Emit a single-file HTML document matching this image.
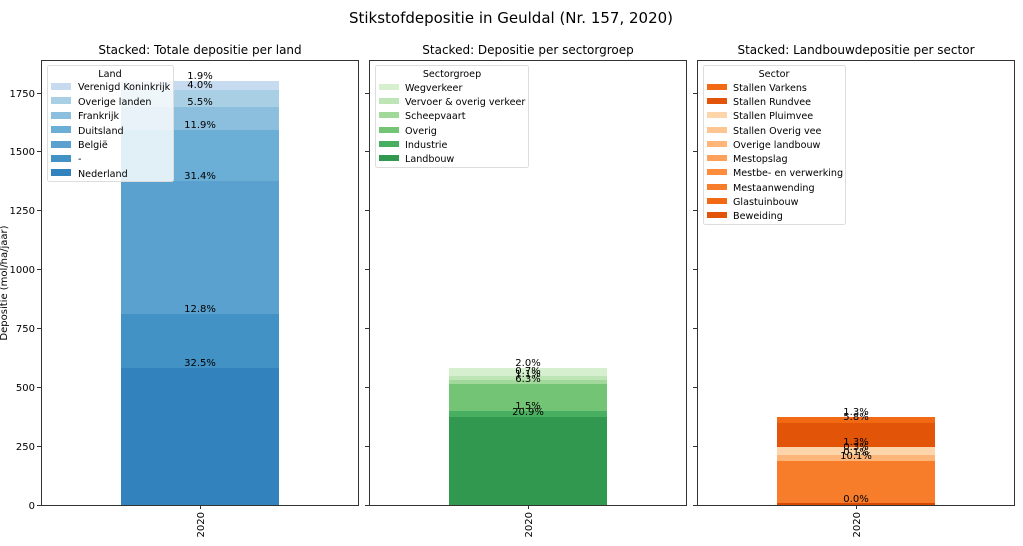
<!DOCTYPE html>
<html><head><meta charset="utf-8"><style>
body{margin:0;background:#fff;}
svg text{font-family:"DejaVu Sans","Liberation Sans",sans-serif;fill:#000;}
</style></head><body>
<svg width="1023" height="541" viewBox="0 0 1023 541" xmlns="http://www.w3.org/2000/svg">
<rect width="1023" height="541" fill="#fff"/>
<text x="511" y="23" font-size="15" text-anchor="middle">Stikstofdepositie in Geuldal (Nr. 157, 2020)</text>
<text x="200" y="54" font-size="12" text-anchor="middle">Stacked: Totale depositie per land</text>
<text x="528" y="54" font-size="12" text-anchor="middle">Stacked: Depositie per sectorgroep</text>
<text x="856" y="54" font-size="12" text-anchor="middle">Stacked: Landbouwdepositie per sector</text>
<text transform="translate(7,283) rotate(-90)" font-size="10" text-anchor="middle">Depositie (mol/ha/jaar)</text>

<rect x="121" y="368" width="158" height="137" fill="#3182bd"/>
<rect x="121" y="314" width="158" height="54" fill="#4292c6"/>
<rect x="121" y="181" width="158" height="133" fill="#5aa1cf"/>
<rect x="121" y="130" width="158" height="51" fill="#6baed6"/>
<rect x="121" y="107" width="158" height="23" fill="#8cbfdd"/>
<rect x="121" y="90" width="158" height="17" fill="#a9cfe5"/>
<rect x="121" y="81" width="158" height="9" fill="#c6dbef"/>
<g font-size="10" text-anchor="middle">
<text x="200" y="366">32.5%</text><text x="200" y="312">12.8%</text>
<text x="200" y="179">31.4%</text><text x="200" y="128">11.9%</text>
<text x="200" y="105">5.5%</text><text x="200" y="88">4.0%</text><text x="200" y="79">1.9%</text>
</g>

<rect x="449" y="417" width="158" height="88" fill="#31994f"/>
<rect x="449" y="411" width="158" height="6" fill="#48ae60"/>
<rect x="449" y="384" width="158" height="27" fill="#74c476"/>
<rect x="449" y="380" width="158" height="4" fill="#a1d99b"/>
<rect x="449" y="376" width="158" height="4" fill="#bde5b6"/>
<rect x="449" y="368" width="158" height="8" fill="#d5efcf"/>
<g font-size="10" text-anchor="middle">
<text x="528" y="366">2.0%</text><text x="528" y="374">0.7%</text><text x="528" y="377">1.1%</text>
<text x="528" y="382">6.3%</text><text x="528" y="409">1.5%</text><text x="528" y="415">20.9%</text>
</g>

<rect x="777" y="503" width="158" height="2" fill="#d94801"/>
<rect x="777" y="461" width="158" height="42" fill="#f87d2a"/>
<rect x="777" y="455" width="158" height="6" fill="#fdb57a"/>
<rect x="777" y="447" width="158" height="8" fill="#fdd5ab"/>
<rect x="777" y="423" width="158" height="24" fill="#e25508"/>
<rect x="777" y="417" width="158" height="6" fill="#f16913"/>
<g font-size="10" text-anchor="middle">
<text x="856" y="415">1.3%</text><text x="856" y="420">5.8%</text>
<text x="856" y="445">1.3%</text><text x="856" y="450">0.3%</text><text x="856" y="455">0.1%</text><text x="856" y="459">10.1%</text>
<text x="856" y="502">0.0%</text>
</g>

<g fill="none" stroke="#333" stroke-width="1">
<rect x="41.5" y="60.5" width="317" height="445"/>
<rect x="369.5" y="60.5" width="317" height="445"/>
<rect x="697.5" y="60.5" width="317" height="445"/>
</g>
<g stroke="#333">
<path d="M37 505.5h4M37 446.5h4M37 387.5h4M37 328.5h4M37 269.5h4M37 210.5h4M37 151.5h4M37 93.5h4"/>
<path d="M365 505.5h4M365 446.5h4M365 387.5h4M365 328.5h4M365 269.5h4M365 210.5h4M365 151.5h4M365 93.5h4"/>
<path d="M693 505.5h4M693 446.5h4M693 387.5h4M693 328.5h4M693 269.5h4M693 210.5h4M693 151.5h4M693 93.5h4"/>
<path d="M200.5 505v4M528.5 505v4M856.5 505v4"/>
</g>
<g font-size="10" text-anchor="end">
<text x="35" y="509">0</text><text x="35" y="450">250</text><text x="35" y="391">500</text>
<text x="35" y="332">750</text><text x="35" y="273">1000</text><text x="35" y="214">1250</text>
<text x="35" y="155">1500</text><text x="35" y="97">1750</text>
</g>
<g font-size="10" text-anchor="end">
<text transform="translate(204,512) rotate(-90)">2020</text>
<text transform="translate(532,512) rotate(-90)">2020</text>
<text transform="translate(860,512) rotate(-90)">2020</text>
</g>

<rect x="47.5" y="65.5" width="126" height="116" rx="2" fill="#fff" fill-opacity="0.8" stroke="#ddd"/>
<g font-size="9.6">
<text x="110" y="77" text-anchor="middle">Land</text>
<rect x="51" y="83" width="20" height="7" fill="#c6dbef"/><text x="78" y="90">Verenigd Koninkrijk</text>
<rect x="51" y="97" width="20" height="7" fill="#a9cfe5"/><text x="78" y="105">Overige landen</text>
<rect x="51" y="112" width="20" height="7" fill="#8cbfdd"/><text x="78" y="119">Frankrijk</text>
<rect x="51" y="126" width="20" height="7" fill="#6baed6"/><text x="78" y="134">Duitsland</text>
<rect x="51" y="141" width="20" height="7" fill="#5aa1cf"/><text x="78" y="148">België</text>
<rect x="51" y="155" width="20" height="7" fill="#4292c6"/><text x="78" y="162">-</text>
<rect x="51" y="169" width="20" height="7" fill="#3182bd"/><text x="78" y="177">Nederland</text>
</g>
<rect x="375.5" y="65.5" width="153" height="102" rx="2" fill="#fff" stroke="#ddd"/>
<g font-size="9.6">
<text x="452" y="77" text-anchor="middle">Sectorgroep</text>
<rect x="379" y="84" width="20" height="6" fill="#d5efcf"/><text x="405" y="91">Wegverkeer</text>
<rect x="379" y="98" width="20" height="6" fill="#bde5b6"/><text x="405" y="105">Vervoer &amp; overig verkeer</text>
<rect x="379" y="112" width="20" height="6" fill="#a1d99b"/><text x="405" y="119">Scheepvaart</text>
<rect x="379" y="127" width="20" height="6" fill="#74c476"/><text x="405" y="134">Overig</text>
<rect x="379" y="141" width="20" height="6" fill="#48ae60"/><text x="405" y="148">Industrie</text>
<rect x="379" y="155" width="20" height="6" fill="#31994f"/><text x="405" y="162">Landbouw</text>
</g>
<rect x="703.5" y="65.5" width="142" height="159" rx="2" fill="#fff" stroke="#ddd"/>
<g font-size="9.6">
<text x="774" y="77" text-anchor="middle">Sector</text>
<rect x="707" y="84" width="20" height="6" fill="#f16913"/><text x="733" y="91">Stallen Varkens</text>
<rect x="707" y="98" width="20" height="6" fill="#e25508"/><text x="733" y="105">Stallen Rundvee</text>
<rect x="707" y="112" width="20" height="6" fill="#fdd5ab"/><text x="733" y="119">Stallen Pluimvee</text>
<rect x="707" y="127" width="20" height="6" fill="#fdc690"/><text x="733" y="134">Stallen Overig vee</text>
<rect x="707" y="141" width="20" height="6" fill="#fdb57a"/><text x="733" y="148">Overige landbouw</text>
<rect x="707" y="155" width="20" height="6" fill="#fda05a"/><text x="733" y="162">Mestopslag</text>
<rect x="707" y="169" width="20" height="6" fill="#fd8d3c"/><text x="733" y="176">Mestbe- en verwerking</text>
<rect x="707" y="184" width="20" height="6" fill="#f87d2a"/><text x="733" y="191">Mestaanwending</text>
<rect x="707" y="198" width="20" height="6" fill="#f16913"/><text x="733" y="205">Glastuinbouw</text>
<rect x="707" y="212" width="20" height="6" fill="#e25508"/><text x="733" y="219">Beweiding</text>
</g>
</svg>
</body></html>
